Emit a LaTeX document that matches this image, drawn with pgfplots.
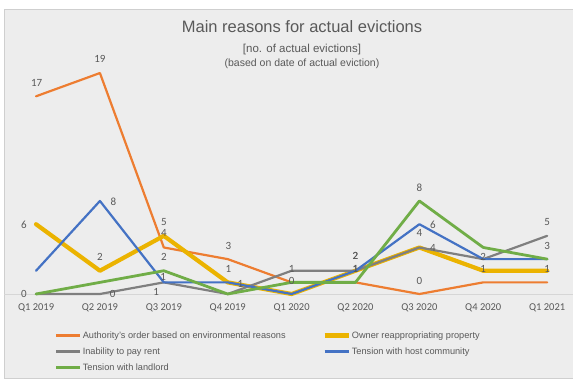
\documentclass[border=0pt]{standalone}
\usepackage{pgfplots}
\pgfplotsset{compat=1.18}
\usepackage{pgfplotstable}
\usepackage{fontspec}
\setmainfont{Liberation Sans}
\newfontfamily\calibri{Carlito}
\definecolor{cOrange}{HTML}{ED7D31}
\definecolor{cGold}{HTML}{EBB300}
\definecolor{cGray}{HTML}{7F7F7F}
\definecolor{cBlue}{HTML}{4472C4}
\definecolor{cGreen}{HTML}{70AD47}
\definecolor{bg}{HTML}{EDEDED}
\definecolor{txt}{HTML}{595959}
\definecolor{frame}{HTML}{CFCFCF}
\definecolor{base}{HTML}{D6D6D6}

\pgfplotstableread{
x authority owner rent host landlord
0 17 6 0 2 0
1 19 2 0 8 1
2 4 5 1 1 2
3 3 1 0 1 0
4 1 0 2 0 1
5 1 2 2 2 1
6 0 4 4 6 8
7 1 2 3 3 4
8 1 2 5 3 3
}\datatable

\pgfplotstableread{
x y t
0.01 18.17 17
1.0 20.17 19
-0.19 5.99 6
-0.19 0 0
1.21 7.94 8
1.0 3.21 2
1.2 0 0
2.0 6.16 5
2.0 5.22 4
2.0 3.21 2
1.99 1.49 1
1.88 0.15 1
3.01 4.13 3
3.01 2.15 1
3.2 0.86 1
4.0 2.15 1
4.0 1.15 0
5.0 3.27 2
5.0 3.27 2
5.0 2.15 1
5.0 2.15 1
6.0 9.14 8
6.21 5.96 6
6.0 5.22 4
6.21 3.93 4
6.0 1.15 0
7.0 3.21 2
7.0 2.15 1
8.0 6.22 5
8.0 4.15 3
8.0 2.15 1
}\labeltable

\begin{document}
\begin{tikzpicture}
\useasboundingbox (0bp,0bp) rectangle (573bp,-379bp);
\clip (0bp,0bp) rectangle (573bp,-379bp);
\fill[white] (0bp,0bp) rectangle (573bp,-379bp);
\filldraw[fill=bg, draw=frame, line width=1bp] (4.5bp,-9.5bp) rectangle (620bp,-378.5bp);
\begin{axis}[
  at={(4.1bp,-294bp)}, anchor=south west,
  scale only axis, width=575bp, height=232.6bp,
  xmin=-0.5, xmax=8.5, ymin=0, ymax=20,
  clip=false,
  axis x line=bottom, axis y line=none,
  axis line style={-},
  x axis line style={draw=base, line width=1bp},
  xtick={0,...,8},
  xticklabels={Q1 2019,Q2 2019,Q3 2019,Q4 2019,Q1 2020,Q2 2020,Q3 2020,Q4 2020,Q1 2021},
  major tick length=0pt,
  xticklabel style={font=\calibri\fontsize{10.5bp}{12bp}\selectfont, text=txt, anchor=base, yshift=-16.4bp},
  ytick=\empty,
  every axis plot/.append style={line join=round, line cap=round, mark=none},
  legend columns=2,
  legend image code/.code={\draw[#1, line cap=butt] (0bp,0bp) -- (24bp,0bp);},
  legend style={
    at={(axis description cs:0.0885,-0.155)}, anchor=north west,
    draw=none, fill=none, inner sep=0pt, outer sep=0pt,
    font=\fontsize{9.2bp}{11bp}\selectfont, text=txt,
    row sep=5bp,
    nodes={inner sep=1bp, text height=7bp, text depth=2bp},
    /tikz/every even column/.append style={column sep=36bp},
  },
  legend cell align=left,
]
\addplot[cOrange, line width=2.2bp] table[x=x, y=authority] {\datatable};
\addlegendentry{Authority's order based on environmental reasons}
\addplot[cGold, line width=4.2bp] table[x=x, y=owner] {\datatable};
\addlegendentry{Owner reappropriating property}
\addplot[cGray, line width=2.2bp] table[x=x, y=rent] {\datatable};
\addlegendentry{Inability to pay rent}
\addplot[cBlue, line width=2.2bp] table[x=x, y=host] {\datatable};
\addlegendentry{Tension with host community}
\addplot[cGreen, line width=2.8bp] table[x=x, y=landlord] {\datatable};
\addlegendentry{Tension with landlord}
\addplot[draw=none, mark=none, forget plot,
  nodes near coords, point meta=explicit symbolic,
  nodes near coords style={anchor=center, inner sep=0pt, text=txt, font=\calibri\fontsize{11bp}{12bp}\selectfont}]
  table[x=x, y=y, meta=t] {\labeltable};
\end{axis}
\node[anchor=base, text=txt, font=\fontsize{16.5bp}{19bp}\selectfont] at (302bp,-32.5bp) {Main reasons for actual evictions};
\node[anchor=base, text=txt, font=\fontsize{11.5bp}{13bp}\selectfont] at (302bp,-52.5bp) {[no. of actual evictions]};
\node[anchor=base, text=txt, font=\fontsize{10.5bp}{12bp}\selectfont] at (302bp,-66.5bp) {(based on date of actual eviction)};
\end{tikzpicture}
\end{document}
